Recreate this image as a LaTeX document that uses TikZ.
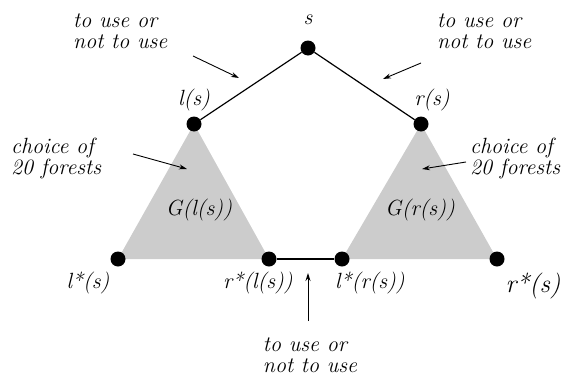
\documentclass[tikz,border=0pt]{standalone}
\usetikzlibrary{arrows.meta}
\begin{document}
\begin{tikzpicture}[x=1pt,y=-1pt,
  dot/.style={circle,fill=black,inner sep=0pt,minimum size=15pt},
  lab/.style={font=\fontsize{22}{21}\selectfont\itshape,inner sep=0pt},
  note/.style={font=\fontsize{22}{21}\selectfont\itshape,inner sep=0pt,align=left},
  pointer/.style={-{Stealth[length=8pt,width=5pt]},line width=0.9pt},
  edge/.style={line width=1.2pt},
  tri/.style={fill=black!20}]
\useasboundingbox (0,0) rectangle (573,383);
% triangles
\fill[tri] (194,124) -- (118,259) -- (269,259) -- cycle;
\fill[tri] (421,124) -- (342,259) -- (497,259) -- cycle;
% nodes
\node[dot] (s) at (308,48) {};
\node[dot] (ls) at (194,124) {};
\node[dot] (rs) at (421,124) {};
\node[dot] (lstar) at (118,259) {};
\node[dot] (rstarl) at (269,259) {};
\node[dot] (lstarr) at (342,259) {};
\node[dot] (rstar) at (497,259) {};
% edges
\draw[edge] (s) -- (ls);
\draw[edge] (s) -- (rs);
\draw[edge] (rstarl) -- (lstarr);
% labels
\node[lab] (tS) at (308,20) {s};
\node[lab] (tls) at (194,100) {l(s)};
\node[lab] (trs) at (432,100) {r(s)};
\node[lab] (tG1) at (199,210) {G(l(s))};
\node[lab] (tG2) at (420,210) {G(r(s))};
\node[lab] (tl1) at (88,283) {l*(s)};
\node[lab] (tr1) at (258,283) {r*(l(s))};
\node[lab] (tl2) at (370,283) {l*(r(s))};
\node[lab,font=\fontsize{26}{26}\selectfont\itshape] (tr2) at (533,286) {r*(s)};
% notes
\node[note,anchor=west] (n1) at (73,31) {to use or\\not to use};
\node[note,anchor=west] (n2) at (437,31) {to use or\\not to use};
\node[note,anchor=west] (c1) at (11,158) {choice of\\20 forests};
\node[note,anchor=west] (c2) at (470,158) {choice of\\20 forests};
\node[note] (n3) at (310,355) {to use or\\not to use};
% pointers
\coordinate (a1s) at (193,56); \coordinate (a1e) at (239,78);
\coordinate (a2s) at (421,63); \coordinate (a2e) at (383,79);
\coordinate (a3s) at (133,154); \coordinate (a3e) at (187,169);
\coordinate (a4s) at (466,162); \coordinate (a4e) at (422,169);
\coordinate (a5s) at (308,321); \coordinate (a5e) at (308,273);
\draw[pointer] (a1s) -- (a1e);
\draw[pointer] (a2s) -- (a2e);
\draw[pointer] (a3s) -- (a3e);
\draw[pointer] (a4s) -- (a4e);
\draw[pointer] (a5s) -- (a5e);
\end{tikzpicture}
\end{document}
